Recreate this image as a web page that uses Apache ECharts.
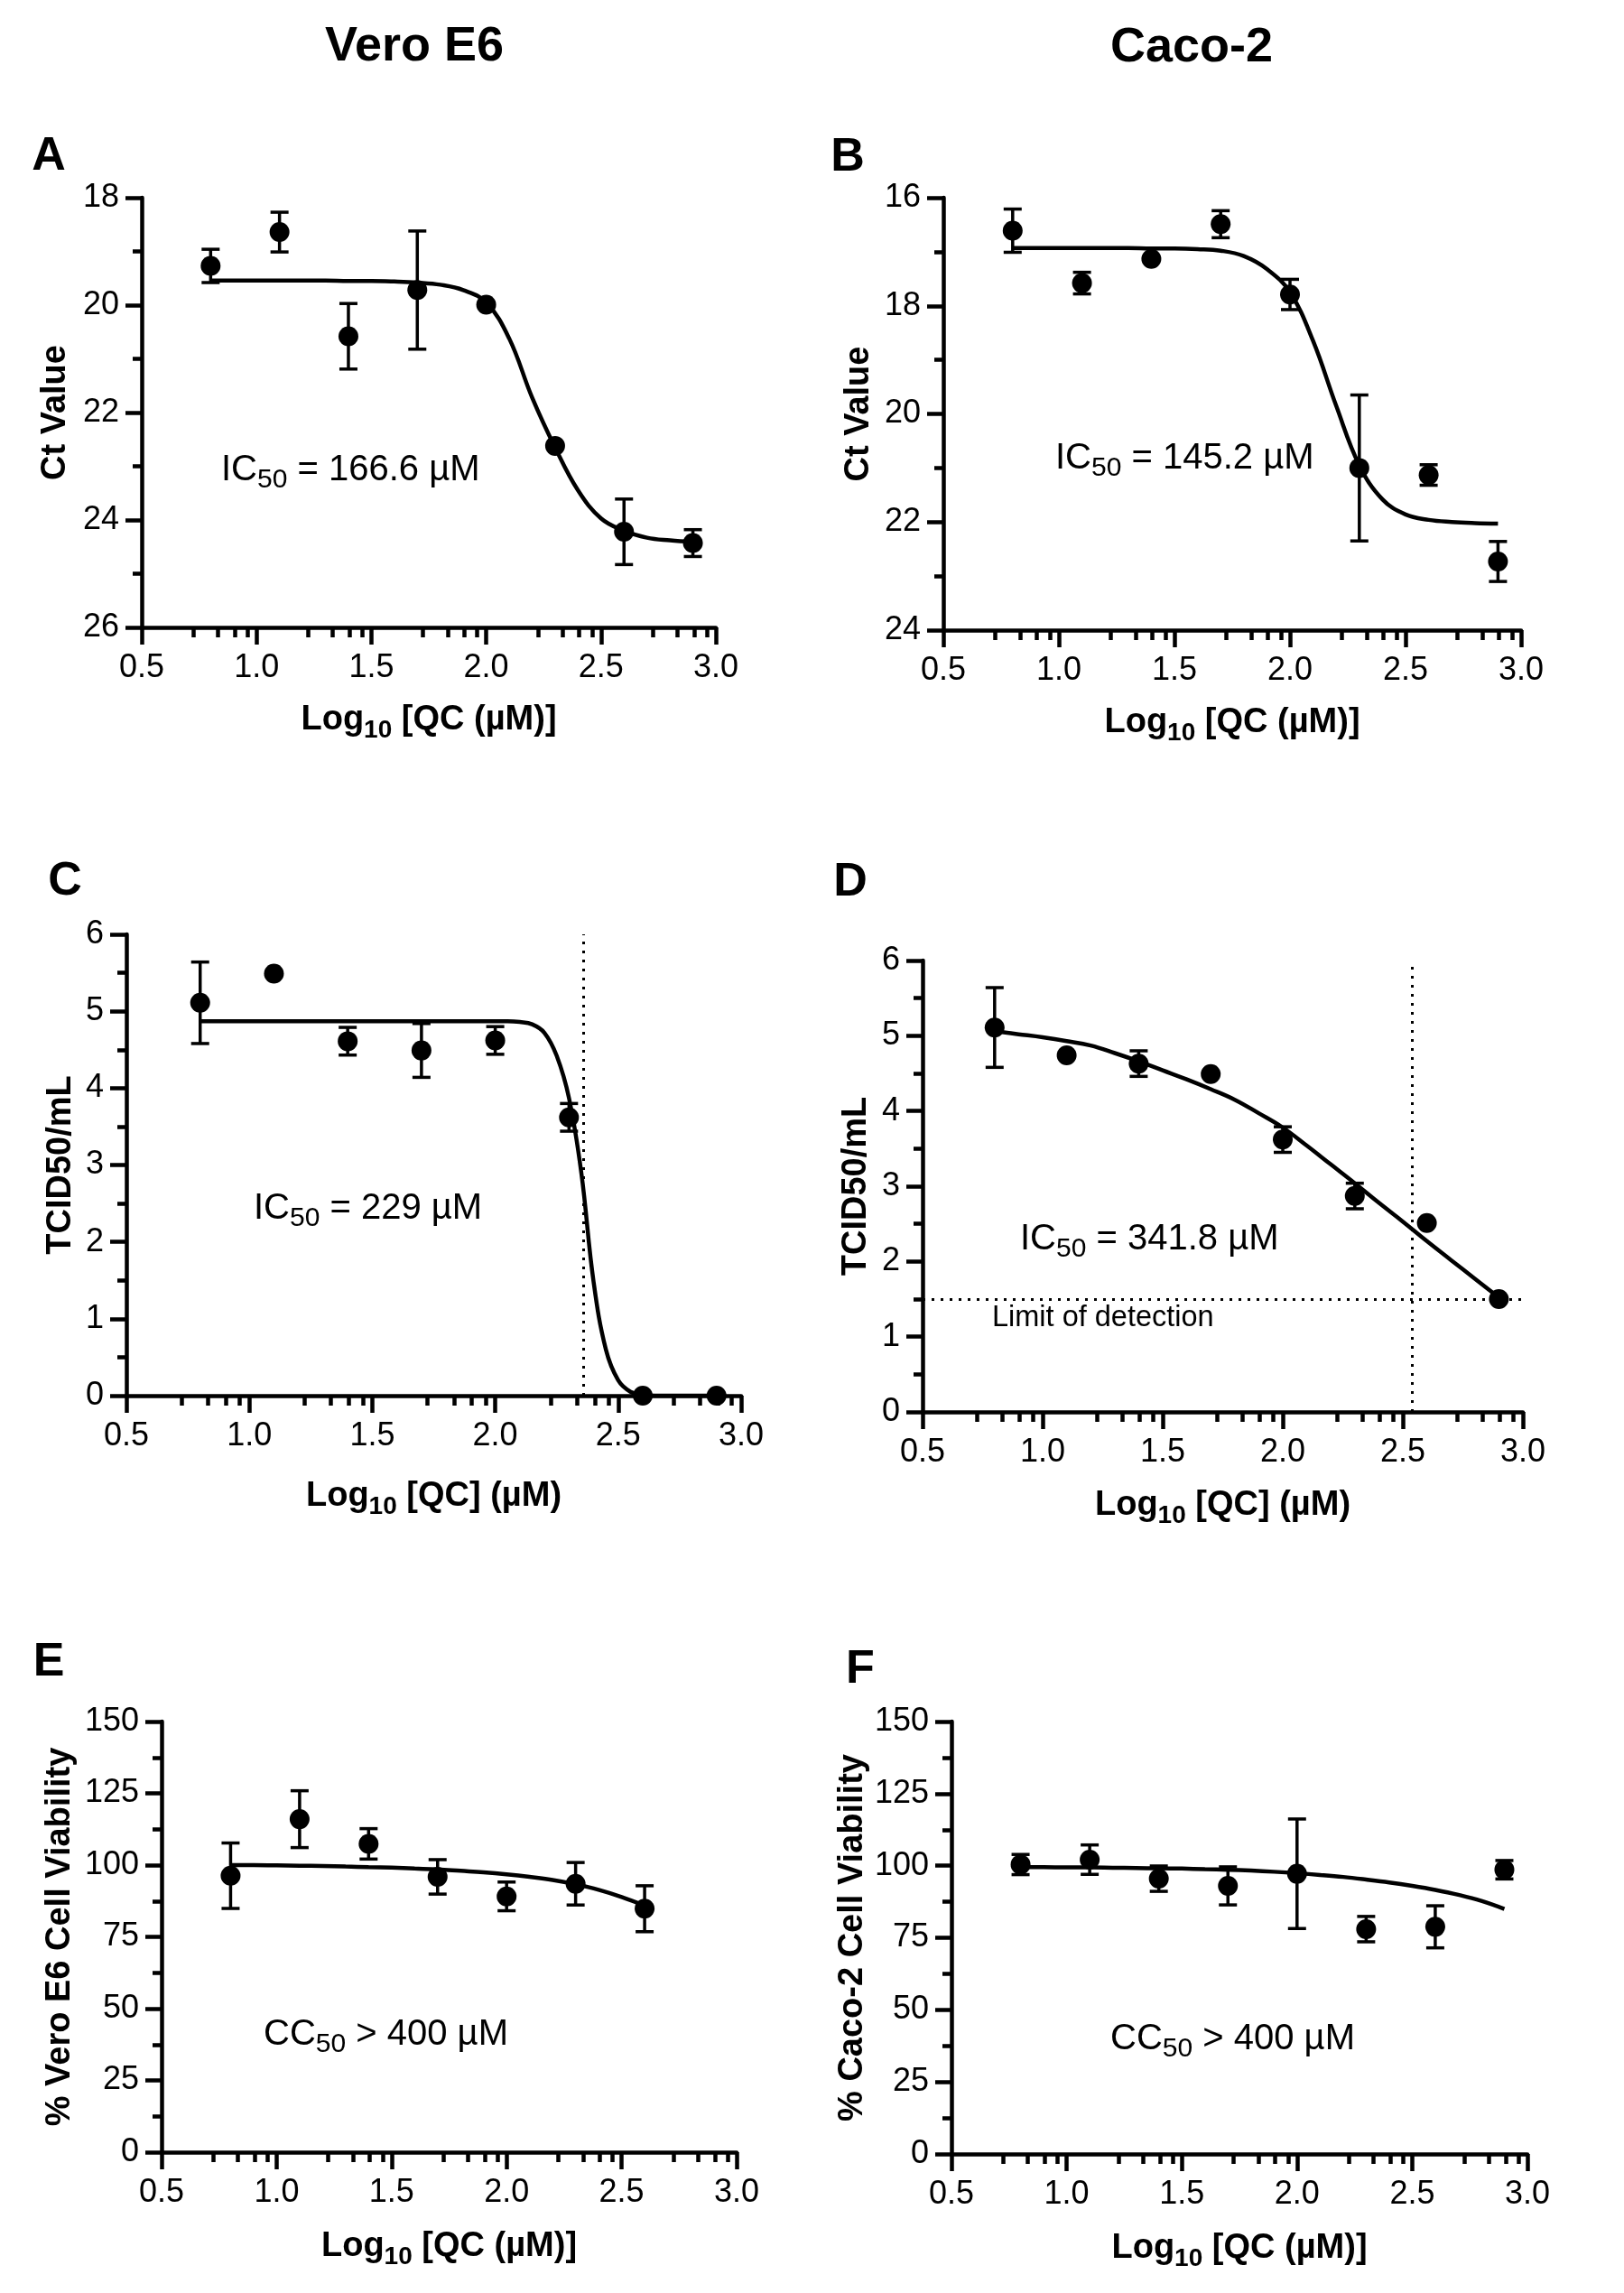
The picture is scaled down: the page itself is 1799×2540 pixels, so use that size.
<!DOCTYPE html>
<html><head><meta charset="utf-8">
<script src="https://cdn.jsdelivr.net/npm/echarts@6/dist/echarts.min.js"></script>
<style>html,body{margin:0;padding:0;background:#fff}#c{width:1799px;height:2540px}</style>
</head><body><div id="c"></div>
<script>
// ---------- data ----------
const doseLog   = [0.8, 1.1, 1.4, 1.7, 2.0, 2.3, 2.6, 2.9];
const doseLogE  = [0.8, 1.1, 1.4, 1.7, 2.0, 2.3, 2.6];
const xTickLabels = ['0.5', '1.0', '1.5', '2.0', '2.5', '3.0'];
const minorTickOffsets = [0.225, 0.332, 0.405, 0.461];

// fitted-curve sample positions (log10 dose)
const fitX = [0.8, 0.9, 1.0, 1.1, 1.2, 1.3, 1.4, 1.5, 1.6, 1.7, 1.8, 1.9, 2.0, 2.1, 2.2, 2.3, 2.4, 2.5, 2.6, 2.7, 2.8, 2.9];
const fitXE = [0.8, 0.9, 1.0, 1.1, 1.2, 1.3, 1.4, 1.5, 1.6, 1.7, 1.8, 1.9, 2.0, 2.1, 2.2, 2.3, 2.4, 2.5, 2.6];
const fitXFine = [0.8, 0.85, 0.9, 0.95, 1.0, 1.05, 1.1, 1.15, 1.2, 1.25, 1.3, 1.35, 1.4, 1.45, 1.5, 1.55, 1.6, 1.65, 1.7, 1.75, 1.8, 1.85, 1.9, 1.95, 2.0,
                  2.05, 2.1, 2.15, 2.2, 2.25, 2.3, 2.35, 2.4, 2.45, 2.5, 2.55, 2.6, 2.65, 2.7, 2.75, 2.8, 2.85, 2.9];

// A: Vero E6 Ct value
const ctVeroMean = [19.27, 18.64, 20.58, 19.72, 19.99, 22.62, 24.22, 24.43];
const ctVeroErr  = [0.31, 0.37, 0.61, 1.10, 0, 0, 0.61, 0.25];
const ctVeroFitY = [19.54, 19.54, 19.54, 19.54, 19.54, 19.54, 19.55, 19.55, 19.56, 19.58, 19.62, 19.72, 19.95, 20.62, 21.72, 22.65, 23.45, 23.97, 24.20, 24.33, 24.38, 24.41];

// B: Caco-2 Ct value
const ctCacoMean = [16.61, 17.58, 17.13, 16.49, 17.79, 21.00, 21.13, 22.73];
const ctCacoErr  = [0.40, 0.20, 0, 0.25, 0.28, 1.35, 0.19, 0.37];
const ctCacoFitY = [16.93, 16.93, 16.93, 16.93, 16.93, 16.93, 16.94, 16.94, 16.95, 16.98, 17.08, 17.32, 17.75, 18.65, 19.85, 20.95, 21.58, 21.86, 21.96, 22.00, 22.02, 22.03];

// C: Vero E6 TCID50/mL
const tcidVeroMean = [5.11, 5.49, 4.61, 4.49, 4.62, 3.62, 0, 0];
const tcidVeroErr  = [0.53, 0, 0.18, 0.35, 0.18, 0.18, 0, 0];
const tcidVeroFitY = [4.87, 4.87, 4.87, 4.87, 4.87, 4.87, 4.87, 4.87, 4.87, 4.87, 4.87, 4.87, 4.87, 4.87, 4.87, 4.87, 4.87, 4.87, 4.87, 4.87, 4.87, 4.87, 4.87, 4.87, 4.87,
                      4.87, 4.86, 4.83, 4.72, 4.42, 3.87, 2.90, 1.48, 0.60, 0.20, 0.05, 0.01, 0, 0, 0, 0, 0, 0];
const tcidVeroIC50Log = 2.36;

// D: Caco-2 TCID50/mL
const tcidCacoMean = [5.11, 4.74, 4.63, 4.49, 3.62, 2.87, 2.51, 1.50];
const tcidCacoErr  = [0.53, 0, 0.17, 0, 0.17, 0.17, 0, 0];
const tcidCacoFitY = [5.06, 5.02, 4.98, 4.93, 4.87, 4.77, 4.66, 4.54, 4.42, 4.29, 4.15, 3.97, 3.78, 3.54, 3.29, 3.04, 2.78, 2.53, 2.27, 2.02, 1.77, 1.52];
const tcidCacoIC50Log = 2.535;
const detectionLimit = 1.5;

// E: Vero E6 viability
const viaVeroMean = [96.3, 116.0, 107.4, 95.9, 89.1, 93.5, 84.8];
const viaVeroErr  = [11.4, 9.9, 5.3, 6.0, 5.0, 7.4, 8.0];
const viaVeroFitY = [100.0, 100.0, 99.9, 99.8, 99.7, 99.5, 99.3, 99.1, 98.8, 98.5, 98.0, 97.5, 96.8, 95.9, 94.8, 93.3, 91.4, 88.9, 85.9];

// F: Caco-2 viability
const viaCacoMean = [100.4, 102.1, 95.5, 93.0, 97.2, 78.0, 78.8, 98.6];
const viaCacoErr  = [3.5, 5.1, 4.4, 6.6, 19.0, 4.4, 7.3, 3.2];
const viaCacoFitY = [99.5, 99.5, 99.4, 99.4, 99.3, 99.2, 99.1, 99.0, 98.8, 98.6, 98.3, 97.9, 97.4, 96.8, 96.1, 95.2, 94.2, 93.0, 91.6, 89.9, 87.8, 85.0];

// ---------- layout / style ----------
const FONT = "'Liberation Sans', Arial, sans-serif";
const BLACK = '#000';
const minorTickValues = [];
[0.5, 1.0, 1.5, 2.0, 2.5].forEach(s => minorTickOffsets.forEach(o => minorTickValues.push(+(s + o).toFixed(3))));

const panels = [
  { grid: {left: 157, top: 219, width: 636, height: 476}, y: {min: 18, max: 26, interval: 2, inverse: true},
    yName: 'Ct Value', yGap: 76, xName: 1, xGap: 77, mean: ctVeroMean, err: ctVeroErr, xs: doseLog, fx: fitX, fy: ctVeroFitY },
  { grid: {left: 1045, top: 219, width: 640, height: 479}, y: {min: 16, max: 24, interval: 2, inverse: true},
    yName: 'Ct Value', yGap: 74, xName: 1, xGap: 77, mean: ctCacoMean, err: ctCacoErr, xs: doseLog, fx: fitX, fy: ctCacoFitY },
  { grid: {left: 140, top: 1035, width: 681, height: 511}, y: {min: 0, max: 6, interval: 1},
    yName: 'TCID50/mL', yGap: 53, xName: 2, xGap: 86, mean: tcidVeroMean, err: tcidVeroErr, xs: doseLog, fx: fitXFine, fy: tcidVeroFitY,
    vline: tcidVeroIC50Log },
  { grid: {left: 1022, top: 1064, width: 665, height: 500}, y: {min: 0, max: 6, interval: 1},
    yName: 'TCID50/mL', yGap: 54, xName: 2, xGap: 78, mean: tcidCacoMean, err: tcidCacoErr, xs: doseLog, fx: fitX, fy: tcidCacoFitY,
    vline: tcidCacoIC50Log, hline: detectionLimit },
  { grid: {left: 179, top: 1907, width: 637, height: 477}, y: {min: 0, max: 150, interval: 25},
    yName: '% Vero E6 Cell Viability', yGap: 93, xName: 1, xGap: 79, mean: viaVeroMean, err: viaVeroErr, xs: doseLogE, fx: fitXE, fy: viaVeroFitY },
  { grid: {left: 1054, top: 1907, width: 638, height: 479}, y: {min: 0, max: 150, interval: 25},
    yName: '% Caco-2 Cell Viability', yGap: 90, xName: 1, xGap: 79, mean: viaCacoMean, err: viaCacoErr, xs: doseLog, fx: fitX, fy: viaCacoFitY }
];

// main tokens centred in a tall line, subscript tokens sit at the bottom of it
const xNameRich = {
  b: {fontSize: 38, fontWeight: 'bold', fontFamily: FONT, color: BLACK, lineHeight: 51, verticalAlign: 'middle'},
  s: {fontSize: 28, fontWeight: 'bold', fontFamily: FONT, color: BLACK, lineHeight: 28, verticalAlign: 'bottom'}
};
const xNames = {1: '{b|Log}{s|10}{b| [QC (µM)]}', 2: '{b|Log}{s|10}{b| [QC] (µM)}'};

const grids = [], xAxes = [], yAxes = [], series = [];
panels.forEach((p, i) => {
  grids.push(Object.assign({containLabel: false, outerBoundsMode: 'none'}, p.grid));
  xAxes.push({
    gridIndex: i, type: 'value', min: 0.5, max: 3.0, interval: 0.5, position: 'bottom',
    axisLine: {show: true, onZero: false, lineStyle: {color: BLACK, width: 4.5}},
    axisTick: {show: true, length: 19, lineStyle: {color: BLACK, width: 4.5}},
    axisLabel: {color: BLACK, fontSize: 36, fontFamily: FONT, margin: 27,
      formatter: v => xTickLabels[Math.round((v - 0.5) / 0.5)]},
    splitLine: {show: false},
    name: xNames[p.xName], nameLocation: 'middle', nameGap: p.xGap, nameMoveOverlap: false,
    nameTextStyle: {rich: xNameRich}
  });
  xAxes.push({
    gridIndex: i, type: 'value', min: 0.5, max: 3.0, position: 'bottom',
    axisLine: {show: false, onZero: false}, axisLabel: {show: false}, splitLine: {show: false},
    axisTick: {show: true, length: 11, customValues: minorTickValues, lineStyle: {color: BLACK, width: 4.5}}
  });
  yAxes.push({
    gridIndex: i, type: 'value', min: p.y.min, max: p.y.max, interval: p.y.interval, inverse: !!p.y.inverse,
    axisLine: {show: true, onZero: false, lineStyle: {color: BLACK, width: 4.5}},
    axisTick: {show: true, length: 18, lineStyle: {color: BLACK, width: 4.5}},
    minorTick: {show: true, splitNumber: 2, length: 10, lineStyle: {color: BLACK, width: 4.5}},
    axisLabel: {color: BLACK, fontSize: 36, fontFamily: FONT, margin: 25},
    splitLine: {show: false}, minorSplitLine: {show: false},
    name: p.yName, nameLocation: 'middle', nameGap: p.yGap, nameMoveOverlap: false,
    nameTextStyle: {fontSize: 38, fontWeight: 'bold', fontFamily: FONT, color: BLACK, lineHeight: 38}
  });
  const xi = i * 2;
  const fit = {
    type: 'line', xAxisIndex: xi, yAxisIndex: i, z: 3, clip: false, silent: true,
    data: p.fx.map((x, k) => [x, p.fy[k]]),
    symbol: 'none', showSymbol: false, smooth: 0.4,
    lineStyle: {color: BLACK, width: 4.5}
  };
  const ml = [];
  if (p.vline != null) ml.push({xAxis: p.vline});
  if (p.hline != null) ml.push({yAxis: p.hline});
  if (ml.length) {
    fit.markLine = {silent: true, symbol: 'none', label: {show: false}, animation: false,
      lineStyle: {color: BLACK, type: [3, 7], width: 3, opacity: 1}, data: ml};
  }
  series.push(fit);
  series.push({
    type: 'custom', xAxisIndex: xi, yAxisIndex: i, z: 4, clip: false, silent: true,
    data: p.xs.map((x, k) => [x, p.mean[k], p.err[k]]).filter(d => d[2] > 0),
    encode: {x: 0, y: 1},
    renderItem: (params, api) => {
      const x = api.value(0), m = api.value(1), e = api.value(2);
      const a = api.coord([x, m + e]), b = api.coord([x, m - e]);
      const hw = 10, st = {stroke: BLACK, lineWidth: 3.5};
      return {type: 'group', children: [
        {type: 'line', shape: {x1: a[0], y1: a[1], x2: b[0], y2: b[1]}, style: st},
        {type: 'line', shape: {x1: a[0] - hw, y1: a[1], x2: a[0] + hw, y2: a[1]}, style: st},
        {type: 'line', shape: {x1: b[0] - hw, y1: b[1], x2: b[0] + hw, y2: b[1]}, style: st}
      ]};
    }
  });
  series.push({
    type: 'scatter', xAxisIndex: xi, yAxisIndex: i, z: 5, clip: false, silent: true,
    data: p.xs.map((x, k) => [x, p.mean[k]]),
    symbol: 'circle', symbolSize: 22, itemStyle: {color: BLACK, opacity: 1}
  });
});

function txt(x, y, text, size, bold, align) {
  return {type: 'text', x: x, y: y, silent: true, z: 10,
    style: {text: text, fill: BLACK, font: (bold ? 'bold ' : '') + size + 'px ' + FONT,
      align: align || 'center', verticalAlign: 'middle', textAlign: align || 'center', textVerticalAlign: 'middle'}};
}
const annRich = {
  m: {fontSize: 40, fontFamily: FONT, color: BLACK, lineHeight: 52, verticalAlign: 'middle'},
  s: {fontSize: 30, fontFamily: FONT, color: BLACK, lineHeight: 30, verticalAlign: 'bottom'}
};
function ann(x, y, text) {
  return {type: 'text', x: x, y: y, silent: true, z: 10,
    style: {text: text, rich: annRich, fill: BLACK, align: 'left', verticalAlign: 'middle', textAlign: 'left', textVerticalAlign: 'middle'}};
}

const graphics = [
  txt(459, 52, 'Vero E6', 54, true),
  txt(1320, 53, 'Caco-2', 54, true),
  txt(54, 174, 'A', 52, true),
  txt(939, 175, 'B', 52, true),
  txt(72, 977, 'C', 52, true),
  txt(942, 978, 'D', 52, true),
  txt(54, 1842, 'E', 52, true),
  txt(953, 1850, 'F', 52, true),
  ann(245, 521, '{m|IC}{s|50}{m| = 166.6 µM}'),
  ann(1169, 508, '{m|IC}{s|50}{m| = 145.2 µM}'),
  ann(281, 1339, '{m|IC}{s|50}{m| = 229 µM}'),
  ann(1130, 1373, '{m|IC}{s|50}{m| = 341.8 µM}'),
  ann(292, 2254, '{m|CC}{s|50}{m| > 400 µM}'),
  ann(1230, 2259, '{m|CC}{s|50}{m| > 400 µM}'),
  txt(1099, 1460, 'Limit of detection', 32.5, false, 'left')
];

const chart = echarts.init(document.getElementById('c'), null, {renderer: 'canvas', width: 1799, height: 2540});
chart.setOption({
  backgroundColor: '#fff', animation: false,
  grid: grids, xAxis: xAxes, yAxis: yAxes, series: series, graphic: graphics
});
</script></body></html>
